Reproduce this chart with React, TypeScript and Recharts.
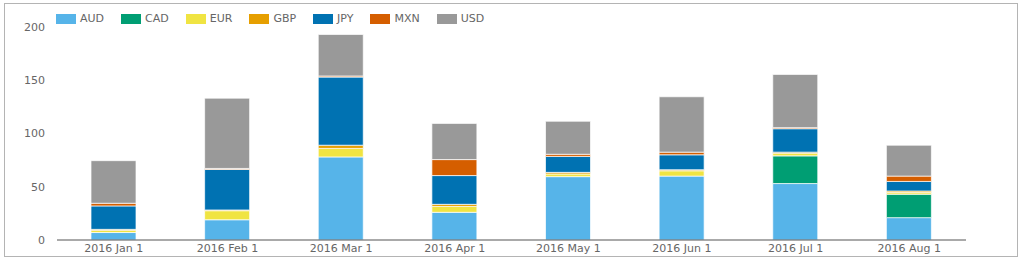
import { Bar, BarChart, XAxis, YAxis } from 'recharts';

// Monthly totals per currency, stacked
const months = [
  '2016 Jan 1',
  '2016 Feb 1',
  '2016 Mar 1',
  '2016 Apr 1',
  '2016 May 1',
  '2016 Jun 1',
  '2016 Jul 1',
  '2016 Aug 1',
];
const aud = [7, 19, 78, 26, 59.5, 60, 53, 21];
const cad = [0, 0, 0, 0, 0, 0, 26, 22];
const eur = [2, 8.5, 8, 5.5, 2.5, 5, 2.5, 1.5];
const gbp = [1, 0.7, 3, 2, 1.5, 1, 1, 1.5];
const jpy = [22, 38, 64, 27, 15, 14, 22, 9];
const mxn = [2.5, 1, 1, 15, 2, 2.5, 1, 5];
const usd = [40, 66, 39, 34, 31, 52, 50, 29];
const yTicks = [0, 50, 100, 150, 200];

const series = [
  { key: 'AUD', values: aud, color: '#56B4E9' },
  { key: 'CAD', values: cad, color: '#009E73' },
  { key: 'EUR', values: eur, color: '#F0E442' },
  { key: 'GBP', values: gbp, color: '#E69F00' },
  { key: 'JPY', values: jpy, color: '#0072B2' },
  { key: 'MXN', values: mxn, color: '#D55E00' },
  { key: 'USD', values: usd, color: '#999999' },
];

const data = months.map((m, i) => {
  const row: Record<string, string | number> = { month: m };
  series.forEach((s) => {
    row[s.key] = s.values[i];
  });
  return row;
});

const FONT = "'DejaVu Sans', Verdana, sans-serif";
const TEXT = '#666';

export default function App() {
  return (
    <div
      style={{
        position: 'absolute',
        left: 4,
        top: 3,
        width: 1012,
        height: 252,
        border: '1px solid #b4b4b4',
        fontFamily: FONT,
      }}
    >
      <div
        style={{
          position: 'absolute',
          left: 51,
          top: 8,
          display: 'flex',
          alignItems: 'center',
          fontSize: 11,
          color: TEXT,
          zIndex: 2,
        }}
      >
        {series.map((s) => (
          <div
            key={s.key}
            style={{ display: 'flex', alignItems: 'center', marginRight: 17 }}
          >
            <span
              style={{
                display: 'inline-block',
                width: 20,
                height: 10,
                background: s.color,
                marginRight: 4,
              }}
            />
            <span>{s.key}</span>
          </div>
        ))}
      </div>

      <BarChart
        width={1012}
        height={252}
        data={data}
        margin={{ top: 23, right: 51, bottom: 0, left: 0 }}
        barSize={45}
      >
        <XAxis
          dataKey="month"
          height={16}
          tickLine={false}
          tickSize={0}
          tickMargin={4}
          axisLine={{ stroke: '#555' }}
          tick={{ fontSize: 11, fontFamily: FONT, fill: TEXT }}
          interval={0}
        />
        <YAxis
          width={52}
          domain={[0, 200]}
          ticks={yTicks}
          axisLine={false}
          tickLine={false}
          tickSize={0}
          tickMargin={12}
          tick={{ fontSize: 11, fontFamily: FONT, fill: TEXT }}
        />
        {series.map((s) => (
          <Bar
            key={s.key}
            dataKey={s.key}
            stackId="a"
            fill={s.color}
            stroke="#fff"
            strokeWidth={1}
            strokeOpacity={0.7}
            isAnimationActive={false}
          />
        ))}
      </BarChart>
    </div>
  );
}
